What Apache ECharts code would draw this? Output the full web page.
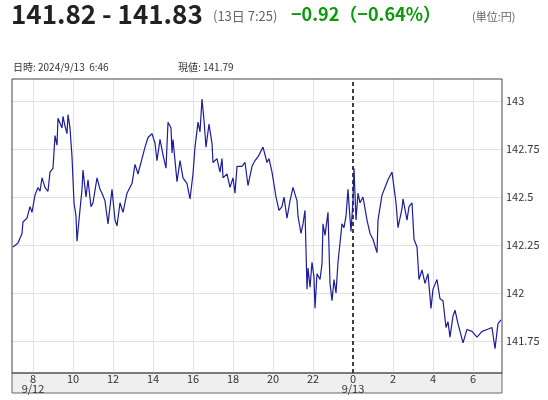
<!DOCTYPE html>
<html><head><meta charset="utf-8">
<script src="https://cdn.jsdelivr.net/npm/echarts@6/dist/echarts.min.js"></script>
<style>html,body{margin:0;padding:0;background:#fff}#c{width:548px;height:400px}</style>
</head><body><div id="c"></div>
<script>
// hours since 9/12 0:00
const hours = [7.0,7.25,7.45,7.5,7.7,7.85,7.95,8.1,8.25,8.35,8.45,8.6,8.75,8.85,9.0,9.1,9.2,9.25,9.45,9.5,9.6,9.7,9.75,9.85,9.95,10.05,10.15,10.2,10.3,10.45,10.5,10.65,10.75,10.9,11.0,11.2,11.35,11.45,11.6,11.75,11.95,12.1,12.2,12.35,12.5,12.7,12.95,13.1,13.25,13.45,13.6,13.75,13.95,14.1,14.2,14.35,14.5,14.65,14.75,14.9,14.95,15.0,15.2,15.35,15.5,15.7,15.85,16.0,16.1,16.25,16.35,16.45,16.55,16.65,16.8,16.95,17.0,17.2,17.35,17.45,17.5,17.7,17.85,18.0,18.1,18.2,18.45,18.6,18.75,18.95,19.1,19.25,19.5,19.7,19.8,19.95,20.15,20.3,20.45,20.55,20.7,20.85,21.0,21.2,21.25,21.4,21.5,21.6,21.7,21.75,21.85,21.95,22.05,22.1,22.2,22.35,22.45,22.5,22.6,22.75,22.85,22.95,23.05,23.15,23.25,23.45,23.55,23.65,23.75,23.8,23.9,24.0,24.05,24.15,24.25,24.35,24.5,24.7,24.85,25.0,25.2,25.25,25.45,25.6,25.75,25.95,26.05,26.15,26.25,26.45,26.5,26.7,26.8,26.95,27.05,27.2,27.3,27.45,27.6,27.75,27.9,28.0,28.2,28.35,28.5,28.65,28.75,28.85,29.0,29.1,29.25,29.5,29.7,29.95,30.2,30.45,30.7,30.95,31.1,31.25,31.4];
const rates = [142.24,142.26,142.31,142.37,142.39,142.45,142.42,142.51,142.55,142.53,142.60,142.55,142.53,142.63,142.65,142.82,142.77,142.91,142.86,142.92,142.87,142.83,142.93,142.86,142.71,142.47,142.40,142.27,142.38,142.54,142.64,142.50,142.59,142.45,142.47,142.60,142.54,142.52,142.48,142.36,142.54,142.38,142.35,142.47,142.42,142.52,142.57,142.67,142.62,142.70,142.76,142.81,142.83,142.78,142.69,142.80,142.72,142.65,142.89,142.86,142.73,142.80,142.58,142.69,142.60,142.57,142.49,142.62,142.76,142.89,142.84,143.01,142.90,142.76,142.88,142.78,142.68,142.70,142.63,142.70,142.60,142.62,142.55,142.60,142.52,142.66,142.66,142.68,142.56,142.66,142.69,142.71,142.76,142.68,142.70,142.63,142.50,142.43,142.45,142.50,142.39,142.48,142.55,142.48,142.40,142.31,142.36,142.43,142.02,142.13,142.03,142.16,142.08,141.92,142.10,142.07,142.15,142.36,142.30,142.42,142.05,141.96,142.07,142.00,142.16,142.36,142.34,142.40,142.54,142.46,142.32,142.48,142.65,142.38,142.52,142.47,142.50,142.38,142.31,142.28,142.21,142.38,142.51,142.55,142.59,142.63,142.55,142.47,142.34,142.44,142.49,142.38,142.45,142.47,142.28,142.24,142.07,142.12,142.05,142.10,141.92,142.02,142.07,141.97,141.96,141.82,141.85,141.77,141.88,141.91,141.84,141.74,141.81,141.80,141.77,141.80,141.81,141.82,141.71,141.84,141.86];
const yTicks = [141.75,142,142.25,142.5,142.75,143];
const xTicks = [8,10,12,14,16,18,20,22,24,26,28,30];
const dayLabels = {8:'9/12',24:'9/13'};

const chart = echarts.init(document.getElementById('c'));
const font = '"Noto Sans CJK JP","Noto Sans",sans-serif';
const markData = [];
yTicks.forEach(v => markData.push({yAxis:v, lineStyle:{color:'#e2e2e2',width:1,type:'solid'},
  label:{show:true,position:'end',formatter:String(v),color:'#333',fontSize:11,fontFamily:font,distance:4}}));
xTicks.forEach(v => markData.push({xAxis:v,
  lineStyle: v===24?{color:'#000',width:1.5,type:[4,3]}:{color:'#e2e2e2',width:1,type:'solid'},
  label:{show:true,position:'start',distance:1,color:'#333',fontSize:11,fontFamily:font,lineHeight:10,
    formatter: (v%24) + (dayLabels[v]?'\n'+dayLabels[v]:''), align:'center', verticalAlign:'top'}}));

chart.setOption({
  animation:false,
  textStyle:{fontFamily:font},
  grid:{left:12,right:46,top:79,bottom:27,show:false},
  graphic:[
    {type:'rect',shape:{x:12,y:373,width:490,height:20},style:{fill:'#efefef',stroke:'#666',lineWidth:1},z:-1},
    {type:'rect',shape:{x:12,y:79,width:490,height:294},style:{fill:'none',stroke:'#444',lineWidth:1},z:10},
    {type:'text',left:11,top:1,style:{text:'141.82 - 141.83',font:'bold 26px '+font,fill:'#222'}},
    {type:'text',left:213,top:10,style:{text:'(13日 7:25)',font:'13px '+font,fill:'#666'}},
    {type:'text',left:291,top:5,style:{text:'−0.92（−0.64%）',font:'bold 18px '+font,fill:'#0a9a0a'}},
    {type:'text',left:472,top:11,style:{text:'(単位:円)',font:'11px '+font,fill:'#666'}},
    {type:'text',left:13,top:62,style:{text:'日時: 2024/9/13  6:46',font:'10px '+font,fill:'#333'}},
    {type:'text',left:178,top:62,style:{text:'現値: 141.79',font:'10px '+font,fill:'#333'}}
  ],
  xAxis:{type:'value',min:6.95,max:31.45,show:false},
  yAxis:{type:'value',min:141.583,max:143.115,show:false},
  series:[{type:'line',data:hours.map((h,i)=>[h,rates[i]]),showSymbol:false,
    lineStyle:{color:'#1c1c9c',width:1.2},
    markLine:{symbol:'none',silent:true,data:markData,z:1}}]
});
</script></body></html>
